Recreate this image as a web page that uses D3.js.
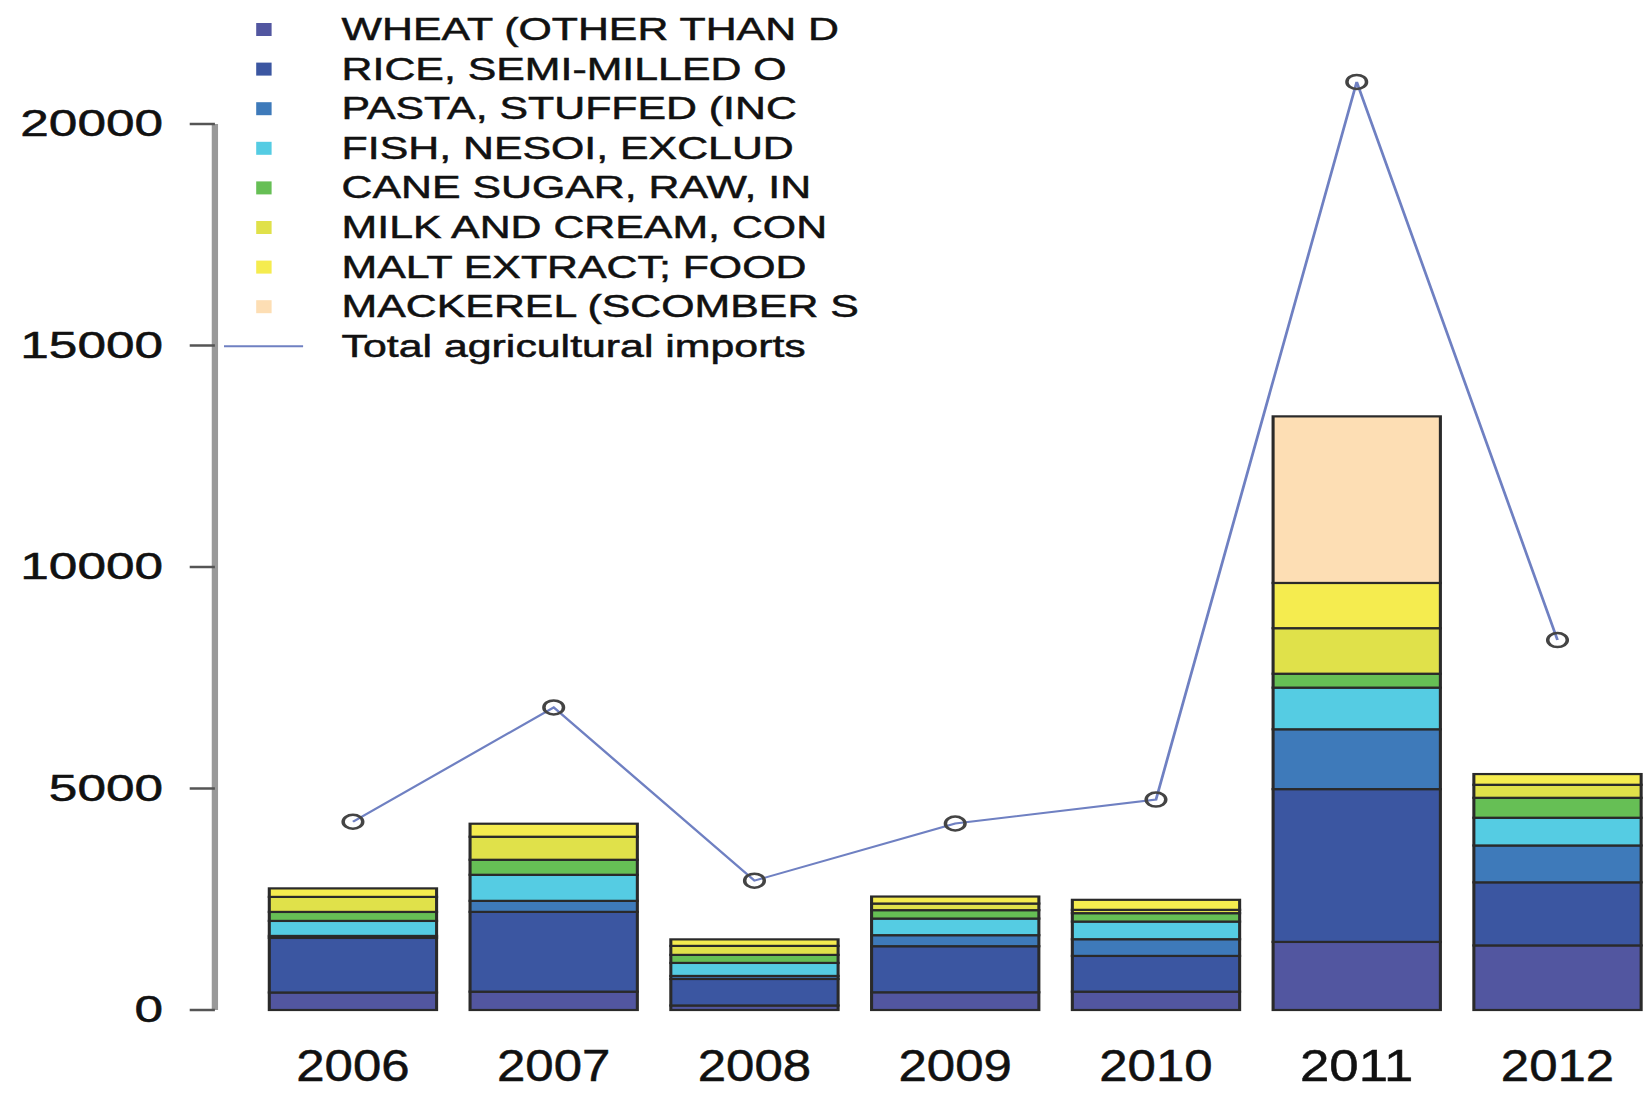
<!DOCTYPE html>
<html>
<head>
<meta charset="utf-8">
<script src="https://cdn.jsdelivr.net/npm/d3@7"></script>
<style>
  html, body { margin: 0; padding: 0; background: #fff; }
  text { font-family: "Liberation Sans", Arial, sans-serif; fill: #111; stroke: #111; stroke-width: 0.5; }
</style>
</head>
<body>
<div id="svg-container"></div>
<script>
// years on the x-axis
var years = ["2006", "2007", "2008", "2009", "2010", "2011", "2012"];

// product names as shown in the legend (bottom of stack first)
var products = [
  "WHEAT (OTHER THAN D",
  "RICE, SEMI-MILLED O",
  "PASTA, STUFFED (INC",
  "FISH, NESOI, EXCLUD",
  "CANE SUGAR, RAW, IN",
  "MILK AND CREAM, CON",
  "MALT EXTRACT; FOOD",
  "MACKEREL (SCOMBER S"
];

// imports per product and year
var wheat    = [395, 414, 102, 400, 414, 1537, 1458];
var rice     = [1232, 1801, 599, 1040, 807, 3449, 1424];
var pasta    = [45, 249, 68, 249, 377, 1351, 832];
var fish     = [339, 588, 294, 375, 398, 940, 626];
var sugar    = [203, 339, 181, 190, 190, 314, 450];
var milk     = [339, 520, 203, 149, 75, 1028, 294];
var malt     = [192, 294, 147, 158, 226, 1021, 242];
var mackerel = [0, 0, 0, 0, 0, 3760, 0];

// total agricultural imports line
var total = [4250, 6830, 2920, 4210, 4750, 20950, 8350];

var lineLabel = "Total agricultural imports";
var yTicks = [0, 5000, 10000, 15000, 20000];

var series = [wheat, rice, pasta, fish, sugar, milk, malt, mackerel];
var colors = ["#5256a0", "#3b56a1", "#3e7aba", "#55cce3", "#66bf55", "#e0e14a", "#f5ec4f", "#fddeb4"];
var lineColor = "#6f80c2";

// the picture is drawn narrow, then stretched sideways
var stretch = 1.4;
var width = 1652, height = 1095;

// build table of rows for d3.stack
var table = years.map(function(yr, i) {
  var row = { year: yr };
  products.forEach(function(p, k) { row[p] = series[k][i]; });
  return row;
});

var stacked = d3.stack().keys(products)(table);

var x = d3.scaleBand()
  .domain(years)
  .range([180.4, 1184.2])
  .paddingInner(1 / 6)
  .paddingOuter(1 / 12);

var y = d3.scaleLinear()
  .domain([0, 20000])
  .range([1010, 124]);

var svg = d3.select("#svg-container").append("svg")
  .attr("width", width)
  .attr("height", height);

var g = svg.append("g")
  .attr("transform", "scale(" + stretch + ",1)");

// stacked bars
var layer = g.selectAll(".layer")
  .data(stacked)
  .enter()
  .append("g")
    .attr("class", "layer")
    .attr("fill", function(d, k) { return colors[k]; });

layer.selectAll("rect")
  .data(function(d) { return d.filter(function(s) { return s[1] > s[0]; }); })
  .enter()
  .append("rect")
    .attr("x", function(d) { return x(d.data.year); })
    .attr("y", function(d) { return y(d[1]); })
    .attr("width", x.bandwidth())
    .attr("height", function(d) { return y(d[0]) - y(d[1]); })
    .attr("stroke", "#2a2a2a")
    .attr("stroke-width", 2.2);

// y-axis
var axisX = 153.5;
var yAxis = g.append("g").attr("class", "y axis");

yAxis.append("line")
  .attr("x1", axisX).attr("x2", axisX)
  .attr("y1", y(20000)).attr("y2", y(0))
  .attr("stroke", "#999")
  .attr("stroke-width", 4.5);

yAxis.selectAll(".tick")
  .data(yTicks)
  .enter()
  .append("line")
    .attr("x1", 135.5).attr("x2", axisX)
    .attr("y1", function(d) { return y(d); })
    .attr("y2", function(d) { return y(d); })
    .attr("stroke", "#555")
    .attr("stroke-width", 2.5);

yAxis.selectAll(".label")
  .data(yTicks)
  .enter()
  .append("text")
    .attr("x", 116.5)
    .attr("y", function(d) { return y(d) + 12.5; })
    .attr("text-anchor", "end")
    .attr("font-size", 36.7)
    .text(function(d) { return d; });

// x labels
g.selectAll(".xlabel")
  .data(years)
  .enter()
  .append("text")
    .attr("x", function(d) { return x(d) + x.bandwidth() / 2; })
    .attr("y", 1081.5)
    .attr("text-anchor", "middle")
    .attr("font-size", 44)
    .attr("textLength", 81)
    .attr("lengthAdjust", "spacingAndGlyphs")
    .text(function(d) { return d; });

// total line with hollow points
var line = d3.line()
  .x(function(d, i) { return x(years[i]) + x.bandwidth() / 2; })
  .y(function(d) { return y(d); });

g.append("path")
  .datum(total)
  .attr("d", line)
  .attr("fill", "none")
  .attr("stroke", lineColor)
  .attr("stroke-width", 2);

g.selectAll(".point")
  .data(total)
  .enter()
  .append("circle")
    .attr("cx", function(d, i) { return x(years[i]) + x.bandwidth() / 2; })
    .attr("cy", function(d) { return y(d); })
    .attr("r", 7)
    .attr("fill", "none")
    .attr("stroke", "#444")
    .attr("stroke-width", 2.5);

// legend
var rowStep = 39.6, rowTop = 29.5;
var legend = g.append("g").attr("class", "legend");

var item = legend.selectAll(".item")
  .data(products)
  .enter()
  .append("g")
    .attr("transform", function(d, i) { return "translate(0," + (rowTop + i * rowStep) + ")"; });

item.append("rect")
  .attr("x", 183)
  .attr("y", -6.5)
  .attr("width", 11)
  .attr("height", 13)
  .attr("fill", function(d, i) { return colors[i]; });

item.append("text")
  .attr("x", 244)
  .attr("y", 10.5)
  .attr("font-size", 30.6)
  .text(function(d) { return d; });

var lineRow = legend.append("g")
  .attr("transform", "translate(0," + (rowTop + products.length * rowStep) + ")");

lineRow.append("line")
  .attr("x1", 160).attr("x2", 216.5)
  .attr("y1", 0).attr("y2", 0)
  .attr("stroke", lineColor)
  .attr("stroke-width", 2);

lineRow.append("text")
  .attr("x", 244)
  .attr("y", 10.5)
  .attr("font-size", 30.6)
  .text(lineLabel);
</script>
</body>
</html>
